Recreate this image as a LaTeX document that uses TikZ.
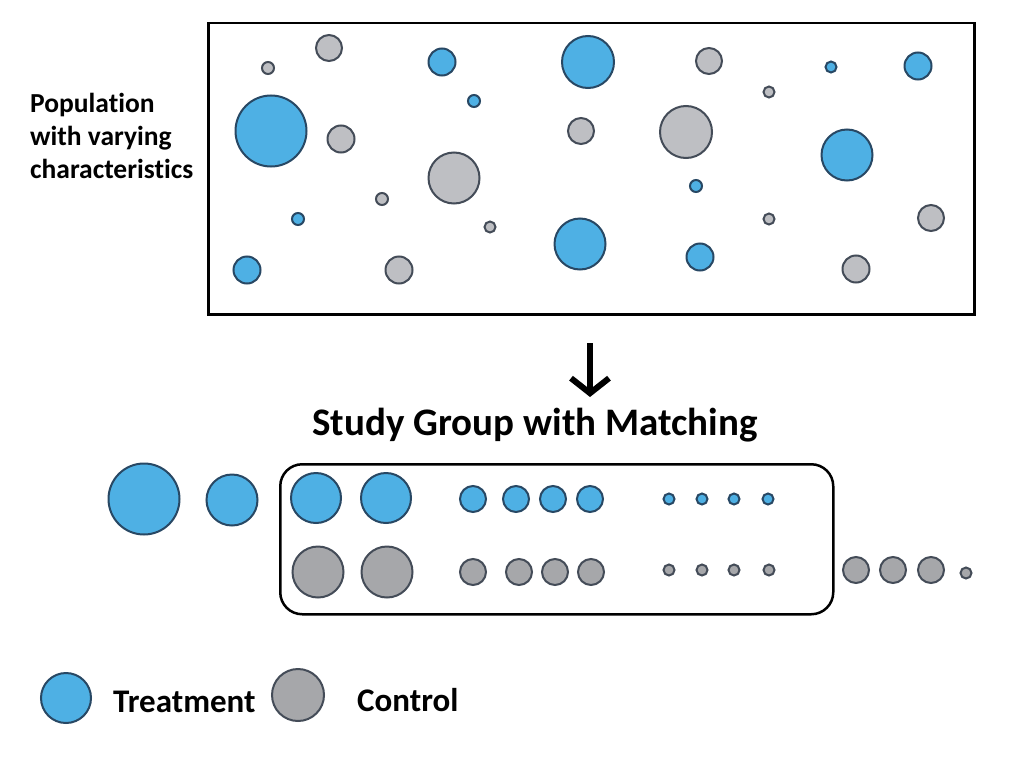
\documentclass[tikz,border=0pt]{standalone}
\usepackage{fontspec}
\setmainfont{Carlito}[Ligatures=NoCommon]
\usetikzlibrary{arrows.meta}
\usetikzlibrary{positioning}

\definecolor{treatblue}{RGB}{78,176,228}
\definecolor{ctrlgray}{RGB}{190,191,195}
\definecolor{ctrldark}{RGB}{166,167,170}
\definecolor{rimblue}{RGB}{40,72,100}
\definecolor{rimgray}{RGB}{68,76,88}

\tikzset{
    dot/.style={circle, draw, line width=2pt, inner sep=0pt, minimum size=#1},
    treat/.style={dot=#1, fill=treatblue, draw=rimblue},
    ctrl/.style={dot=#1, fill=ctrlgray, draw=rimgray},
    ctrlb/.style={dot=#1, fill=ctrldark, draw=rimgray},
    frame/.style={draw, line width=2.5pt, inner sep=0pt, anchor=north west},
    lbl/.style={font=\bfseries, inner sep=0pt}
}

\begin{document}
\begin{tikzpicture}[x=1pt, y=-1pt]

    \useasboundingbox[fill=white] (0,0) rectangle (1024,768);

    % population
    \node[frame, minimum width=766, minimum height=291] (popbox) at (207,22) {};
    \node[lbl, anchor=west, align=left, font=\bfseries\fontsize{27.5}{33}\selectfont] (poptext) at (30,136)
        {Population\\with varying\\characteristics};

    \foreach \x/\y/\d [count=\i] in {442/62/27, 588/62/52, 831/67/11, 918/66/27, 271/131/71,
        474/101/12, 847/155/51, 298/219/12, 580/244/51, 696/186/12, 247/270/27, 700/257/27}
        \node[treat=\d] (pt\i) at (\x,\y) {};

    \foreach \x/\y/\d [count=\i] in {268/68/12, 329/48/26, 709/61/26, 341/139/27, 581/131/26,
        686/132/52, 769/92/11, 454/178/51, 382/199/12, 490/227/11, 769/219/11, 931/218/26,
        399/270/27, 856/269/27}
        \node[ctrl=\d] (pc\i) at (\x,\y) {};

    % arrow
    \coordinate (arrtop) at (590,343);
    \coordinate (arrbot) at (590,397);
    \draw[line width=6pt, -{Straight Barb[length=15pt, width=38pt]}] (arrtop) -- (arrbot);

    % study group
    \node[lbl, font=\bfseries\fontsize{39}{44}\selectfont] (title) at (535,425) {Study Group with Matching};
    \node[frame, rounded corners=22pt, minimum width=553, minimum height=150] (studybox) at (279,463) {};

    \node[treat=71] (ot1) at (144,499) {};
    \node[treat=51] (ot2) at (232,500) {};

    \foreach \x/\y/\d [count=\i] in {316/498/50, 386/498/50, 473/499/26, 516/499/26, 553/499/26,
        590/499/26, 669/499/11, 702/499/11, 734/499/11, 768/499/11}
        \node[treat=\d] (mt\i) at (\x,\y) {};

    \foreach \x/\y/\d [count=\i] in {318/572/51, 387/572/51, 473/572/26, 519/572/26, 555/572/26,
        591/572/26, 669/570/11, 702/570/11, 734/570/11, 769/570/11}
        \node[ctrlb=\d] (mc\i) at (\x,\y) {};

    \foreach \x/\y/\d [count=\i] in {856/570/26, 893/570/26, 931/570/26, 966/573/11}
        \node[ctrlb=\d] (oc\i) at (\x,\y) {};

    % legend
    \node[treat=50] (legt) at (66,698) {};
    \node[lbl, anchor=west, font=\bfseries\fontsize{33}{38}\selectfont] (legttext) at (113,702) {Treatment};
    \node[ctrlb=52] (legc) at (298,695) {};
    \node[lbl, anchor=west, font=\bfseries\fontsize{33}{38}\selectfont] (legctext) at (357,700) {Control};

\end{tikzpicture}
\end{document}
